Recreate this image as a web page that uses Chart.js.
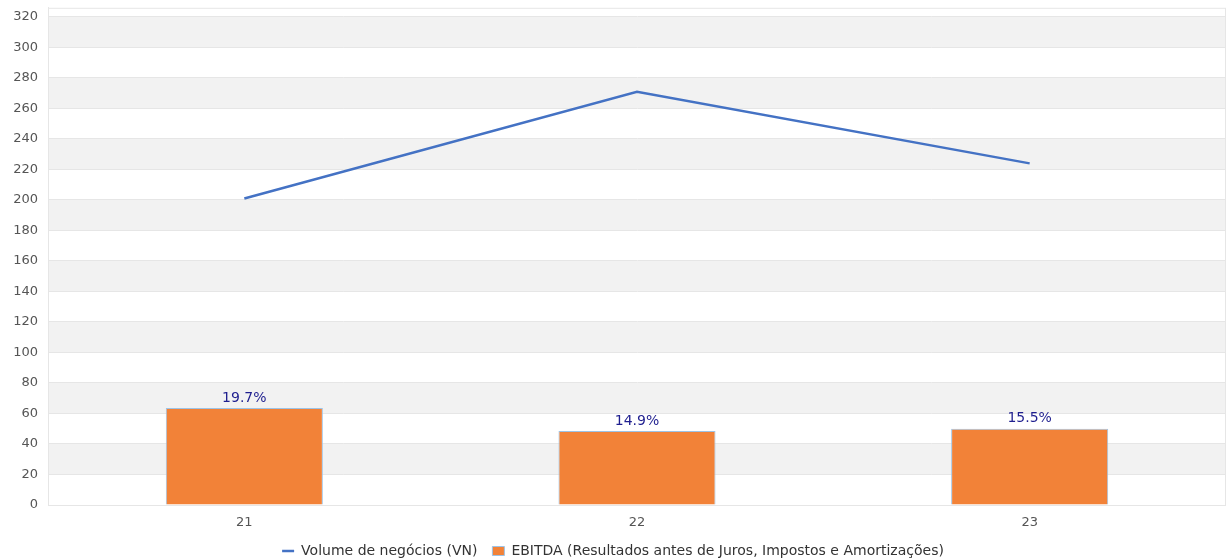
<!DOCTYPE html>
<html>
<head>
<meta charset="utf-8">
<script src="https://cdn.jsdelivr.net/npm/chart.js@4/dist/chart.umd.min.js"></script>
<style>
  html, body { margin: 0; padding: 0; background: #fff; overflow: hidden; }
  #wrap { width: 1226px; height: 570px; margin-top: -10px; }
</style>
</head>
<body>
<div id="wrap"><canvas id="chart"></canvas></div>
<script>
// Chart data
const categories = ['21', '22', '23'];
const volumeValues = [201, 271, 224];
const ebitdaValues = [63.6, 48.6, 50];
const ebitdaLabels = ['19.7%', '14.9%', '15.5%'];
const yTicks = [0, 20, 40, 60, 80, 100, 120, 140, 160, 180, 200, 220, 240, 260, 280, 300, 320];

// Alternating grey bands behind the grid
const bandsPlugin = {
  id: 'bands',
  beforeDraw(chart) {
    const { ctx, chartArea, scales } = chart;
    const y = scales.y;
    ctx.save();
    ctx.fillStyle = '#f2f2f2';
    for (let i = 1; i < yTicks.length - 1; i += 2) {
      const top = y.getPixelForValue(yTicks[i + 1]);
      const bottom = y.getPixelForValue(yTicks[i]);
      ctx.fillRect(chartArea.left, top, chartArea.right - chartArea.left, bottom - top);
    }
    ctx.strokeStyle = '#e6e6e6';
    ctx.lineWidth = 1;
    ctx.strokeRect(chartArea.left + 0.5, chartArea.top + 0.5,
      chartArea.right - chartArea.left - 1, chartArea.bottom - chartArea.top);
    ctx.restore();
  }
};

// Percentage labels above the bars
const barLabelsPlugin = {
  id: 'barLabels',
  afterDatasetsDraw(chart) {
    const { ctx } = chart;
    const meta = chart.getDatasetMeta(1);
    ctx.save();
    ctx.font = '14px "DejaVu Sans", sans-serif';
    ctx.fillStyle = '#1f1f8f';
    ctx.textAlign = 'center';
    ctx.textBaseline = 'bottom';
    meta.data.forEach((bar, i) => {
      ctx.fillText(ebitdaLabels[i], bar.x, bar.y - 3);
    });
    ctx.restore();
  }
};

new Chart(document.getElementById('chart'), {
  data: {
    labels: categories,
    datasets: [{
      type: 'line',
      label: 'Volume de negócios (VN)',
      data: volumeValues,
      borderColor: '#4472c4',
      backgroundColor: '#4472c4',
      borderWidth: 2.5,
      pointRadius: 0,
      pointStyle: 'line',
      tension: 0,
      order: 0
    }, {
      type: 'bar',
      label: 'EBITDA (Resultados antes de Juros, Impostos e Amortizações)',
      data: ebitdaValues,
      backgroundColor: '#f28238',
      borderColor: '#9dc3e6',
      borderWidth: 1,
      pointStyle: 'rect',
      categoryPercentage: 1,
      barPercentage: 0.4,
      order: 1
    }]
  },
  options: {
    responsive: true,
    maintainAspectRatio: false,
    animation: false,
    layout: { padding: { top: 0, right: 0, left: 0, bottom: -8 } },
    scales: {
      x: {
        grid: { display: false, drawTicks: false },
        border: { display: false },
        ticks: { color: '#555', font: { family: 'DejaVu Sans', size: 13 }, padding: 10 },
        afterFit(scale) { scale.height = 24; }
      },
      y: {
        min: 0,
        max: 326,
        afterBuildTicks(scale) {
          scale.ticks = yTicks.map(v => ({ value: v }));
        },
        grid: { color: '#e6e6e6', drawTicks: false },
        border: { display: true, color: '#e6e6e6' },
        ticks: { color: '#555', font: { family: 'DejaVu Sans', size: 13 }, padding: 10 },
        afterFit(scale) { scale.width = 48; }
      }
    },
    plugins: {
      legend: {
        position: 'bottom',
        labels: {
          usePointStyle: true,
          pointStyleWidth: 12,
          boxHeight: 9,
          color: '#333',
          font: { family: 'DejaVu Sans', size: 14 },
          padding: 15
        }
      },
      tooltip: { enabled: false }
    }
  },
  plugins: [bandsPlugin, barLabelsPlugin]
});
</script>
</body>
</html>
